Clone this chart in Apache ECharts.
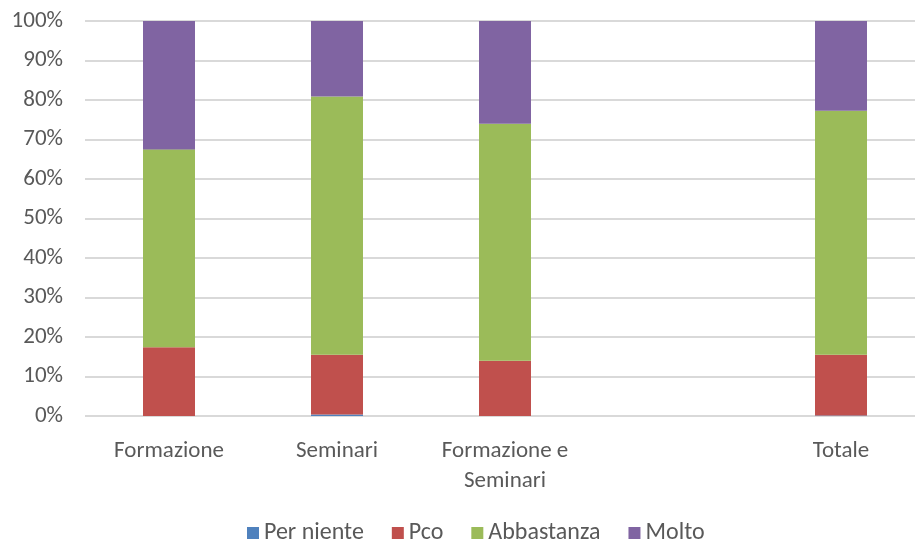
<!DOCTYPE html>
<html>
<head>
<meta charset="utf-8">
<script src="https://cdn.jsdelivr.net/npm/echarts@6/dist/echarts.min.js"></script>
<style>html,body{margin:0;padding:0;background:#fff;overflow:hidden}#c{width:925px;height:539px}</style>
</head>
<body>
<div id="c"></div>
<script>
const categories = ['Formazione', 'Seminari', 'Formazione e\nSeminari', '', 'Totale'];
const perNiente = [0, 0.4, 0, null, 0.1];
const pco = [17.4, 15.1, 14.0, null, 15.4];
const abbastanza = [50.1, 65.4, 60.0, null, 61.8];
const molto = [32.5, 19.1, 26.0, null, 22.7];
const yTicks = [0, 10, 20, 30, 40, 50, 60, 70, 80, 90, 100];

const seriesNames = ['Per niente', 'Pco', 'Abbastanza', 'Molto'];
const seriesData = [perNiente, pco, abbastanza, molto];
const colors = ['#4F81BD', '#C0504D', '#9BBB59', '#8064A2'];
const font = 'Calibri, Carlito, "Open Sans", sans-serif';

const chart = echarts.init(document.getElementById('c'));
chart.setOption({
  animation: false,
  color: colors,
  grid: { left: 85, right: 0, top: 21, bottom: 123, containLabel: false },
  legend: {
    top: 516,
    left: 242,
    itemWidth: 12, itemHeight: 12, itemGap: 28,
    icon: 'rect',
    textStyle: { color: '#595959', fontSize: 24, fontFamily: font },
    data: seriesNames
  },
  xAxis: {
    type: 'category',
    data: categories,
    axisTick: { show: false },
    axisLine: { show: false },
    axisLabel: { color: '#595959', fontSize: 23, fontFamily: font, margin: 20, lineHeight: 30, interval: 0 }
  },
  yAxis: {
    type: 'value',
    min: yTicks[0], max: yTicks[yTicks.length - 1], interval: 10,
    axisLine: { show: false }, axisTick: { show: false },
    splitLine: { lineStyle: { color: '#d9d9d9', width: 2 } },
    axisLabel: { color: '#595959', fontSize: 23, fontFamily: font, margin: 22, formatter: '{value}%' }
  },
  series: seriesNames.map((n, i) => ({
    name: n, type: 'bar', stack: 'total', barWidth: 52,
    data: seriesData[i]
  }))
});
</script>
</body>
</html>
